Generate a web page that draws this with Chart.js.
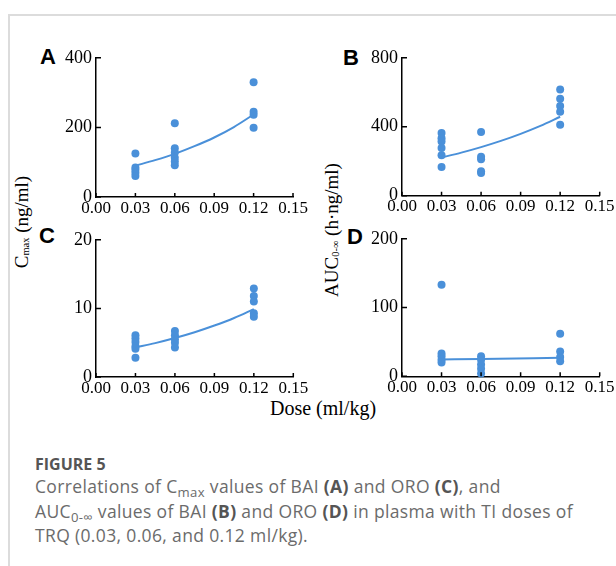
<!DOCTYPE html>
<html>
<head>
<meta charset="utf-8">
<script src="https://cdn.jsdelivr.net/npm/chart.js@4.4.0/dist/chart.umd.min.js"></script>
<style>
html, body { margin: 0; padding: 0; background: #fff; width: 616px; height: 566px; overflow: hidden; }
body { position: relative; }
#frame { position: absolute; left: 8px; top: 14px; width: 620px; height: 560px; border-top: 2px solid #dcdcdc; border-left: 2px solid #dcdcdc; }
canvas { position: absolute; }
.serif { position: absolute; font-family: 'Liberation Serif', 'Times New Roman', serif; color: #000; white-space: nowrap; line-height: 1; }
.serif sub { font-size: 55%; vertical-align: -0.15em; line-height: 0; }
.ytitle { font-size: 19px; transform: translate(-50%, -50%) rotate(-90deg); }
.letter { position: absolute; font-family: 'Liberation Sans', Arial, sans-serif; font-weight: bold; font-size: 22px; line-height: 1; color: #000; }
#figno { position: absolute; left: 35px; top: 454px; font-family: 'Open Sans', sans-serif; font-weight: 700; font-size: 16px; line-height: 20px; color: #555; }
#captxt { position: absolute; left: 35px; top: 474px; font-family: 'Open Sans', sans-serif; font-size: 17.5px; letter-spacing: 0.35px; line-height: 24.7px; color: #6b6b6b; white-space: nowrap; }
#captxt b { font-weight: 700; color: #555; }
#captxt sub { font-size: 75%; line-height: 0; vertical-align: -0.3em; }
</style>
</head>
<body>
<div id="frame"></div>

<div class="letter" style="left:40px; top:46px;">A</div>
<div class="letter" style="left:343px; top:47px;">B</div>
<div class="letter" style="left:39px; top:225px;">C</div>
<div class="letter" style="left:347px; top:226px;">D</div>

<div class="serif ytitle" style="left:21px; top:222px;">C<sub>max</sub> (ng/ml)</div>
<div class="serif ytitle" style="left:331px; top:230px;">AUC<sub>0-∞</sub> (h·ng/ml)</div>
<div class="serif" style="left:323px; top:398px; font-size:20px; transform:translateX(-50%);">Dose (ml/kg)</div>

<div id="figno">FIGURE 5</div>
<div id="captxt">Correlations of C<sub>max</sub> values of BAI <b>(A)</b> and ORO <b>(C)</b>, and<br>AUC<sub>0-∞</sub> values of BAI <b>(B)</b> and ORO <b>(D)</b> in plasma with TI doses of<br>TRQ (0.03, 0.06, and 0.12 ml/kg).</div>

<script>
// doses on the x axis
const doses = [0.03, 0.06, 0.12];
const xTicks = [0, 0.03, 0.06, 0.09, 0.12, 0.15];
const fitDoses = [0.03, 0.045, 0.06, 0.075, 0.09, 0.105, 0.12];

// A: Cmax BAI, one list per dose
const cmaxBai = [[125, 85, 78, 70, 60], [212, 140, 128, 113, 102, 91], [330, 245, 236, 199]];
const cmaxBaiFit = [90, 106, 124, 146, 171, 201, 237];
const cmaxBaiTicks = [0, 200, 400];

// B: AUC BAI
const aucBai = [[364, 333, 314, 277, 234, 167], [369, 226, 212, 142, 131], [616, 563, 521, 487, 411]];
const aucBaiFit = [222, 250, 282, 318, 359, 405, 458];
const aucBaiTicks = [0, 400, 800];

// C: Cmax ORO
const cmaxOro = [[6.1, 5.6, 5.1, 4.5, 4.1, 2.8], [6.7, 6.1, 5.5, 5.0, 4.3], [12.9, 11.8, 11.0, 9.3, 8.8]];
const cmaxOroFit = [4.3, 4.94, 5.68, 6.52, 7.5, 8.6, 9.9];
const cmaxOroTicks = [0, 10, 20];

// D: AUC ORO
const aucOro = [[133, 33, 29, 24, 20], [29, 24, 17, 11, 4], [62, 36, 28, 22]];
const aucOroFitDoses = [0.03, 0.06, 0.12];
const aucOroFit = [24.5, 25.3, 27];
const aucOroTicks = [0, 100, 200];

const BLUE = '#4a90d9';

Chart.defaults.font.family = "'Liberation Serif', 'Times New Roman', serif";
Chart.defaults.font.size = 17;
Chart.defaults.color = '#000';

// short tick marks pointing into the plot, as in the original
const inwardTicks = {
  id: 'inwardTicks',
  afterDraw(chart) {
    const { ctx, chartArea: a, scales: { x, y } } = chart;
    ctx.save();
    ctx.strokeStyle = '#000';
    ctx.lineWidth = 1.5;
    ctx.beginPath();
    x.ticks.forEach(t => {
      const px = x.getPixelForValue(t.value);
      ctx.moveTo(px, a.bottom);
      ctx.lineTo(px, a.bottom - 4);
    });
    y.ticks.forEach(t => {
      const py = y.getPixelForValue(t.value);
      ctx.moveTo(a.left, py);
      ctx.lineTo(a.left + 5, py);
    });
    ctx.stroke();
    ctx.restore();
  }
};

function makePanel(area, groups, fx, fy, yTicks) {
  const yW = 40, padT = 12, padR = 22, xH = 28;
  const left = area.l - yW, top = area.t - padT;
  const w = Math.ceil(area.r - left + padR);
  const h = Math.ceil(area.b - top + xH);
  const cv = document.createElement('canvas');
  cv.width = w; cv.height = h;
  cv.style.left = left + 'px'; cv.style.top = top + 'px';
  cv.style.width = w + 'px'; cv.style.height = h + 'px';
  document.body.appendChild(cv);

  const dots = [];
  groups.forEach((vals, i) => vals.forEach(v => dots.push({ x: doses[i], y: v })));
  const fit = fx.map((d, i) => ({ x: d, y: fy[i] }));

  new Chart(cv, {
    type: 'scatter',
    data: {
      datasets: [
        { data: fit, type: 'line', showLine: true, borderColor: BLUE, borderWidth: 2, pointRadius: 0, fill: false, cubicInterpolationMode: 'monotone', clip: false },
        { data: dots, backgroundColor: BLUE, borderColor: BLUE, borderWidth: 0, pointRadius: 4, clip: false }
      ]
    },
    options: {
      responsive: false,
      animation: false,
      devicePixelRatio: 1,
      layout: { padding: { top: padT, left: 0, right: w - yW - (area.r - area.l), bottom: h - xH - (area.b - top) } },
      plugins: { legend: { display: false }, tooltip: { enabled: false } },
      scales: {
        x: {
          type: 'linear', min: 0, max: 0.15,
          afterBuildTicks: s => { s.ticks = xTicks.map(v => ({ value: v })); },
          afterFit: s => { s.height = xH; },
          ticks: { callback: v => v.toFixed(2), color: '#000', padding: 1, maxRotation: 0, autoSkip: false },
          grid: { drawOnChartArea: false, drawTicks: false },
          border: { color: '#000', width: 1.5 }
        },
        y: {
          type: 'linear', min: yTicks[0], max: yTicks[yTicks.length - 1],
          afterBuildTicks: s => { s.ticks = yTicks.map(v => ({ value: v })); },
          afterFit: s => { s.width = yW; },
          ticks: { callback: v => String(v), color: '#000', padding: 4, font: { size: 18 } },
          grid: { drawOnChartArea: false, drawTicks: false },
          border: { color: '#000', width: 1.5 }
        }
      }
    },
    plugins: [inwardTicks]
  });
}

makePanel({ l: 96, r: 293, t: 55, b: 197 }, cmaxBai, fitDoses, cmaxBaiFit, cmaxBaiTicks);
makePanel({ l: 402.3, r: 600, t: 55, b: 195.7 }, aucBai, fitDoses, aucBaiFit, aucBaiTicks);
makePanel({ l: 95.7, r: 293, t: 236.7, b: 376.7 }, cmaxOro, fitDoses, cmaxOroFit, cmaxOroTicks);
makePanel({ l: 402.3, r: 600, t: 235.7, b: 376 }, aucOro, aucOroFitDoses, aucOroFit, aucOroTicks);
</script>
</body>
</html>
